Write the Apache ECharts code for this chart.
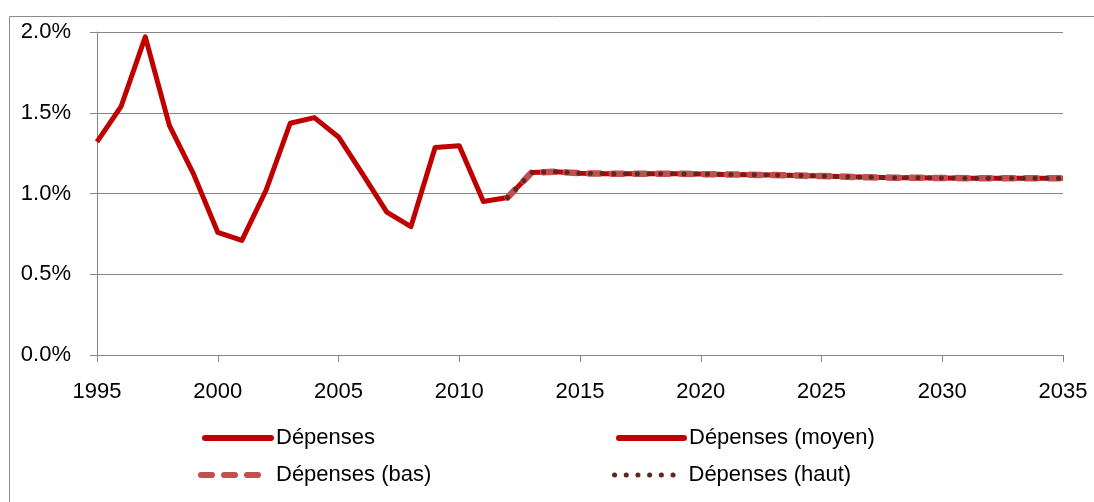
<!DOCTYPE html>
<html>
<head>
<meta charset="utf-8">
<script src="https://cdn.jsdelivr.net/npm/echarts@6/dist/echarts.min.js"></script>
<style>html,body{margin:0;padding:0;background:#fff}#c{width:1094px;height:502px}</style>
</head>
<body>
<div id="c"></div>
<script>
const histYears = [1995,1996,1997,1998,1999,2000,2001,2002,2003,2004,2005,2006,2007,2008,2009,2010,2011,2012];
const histValues = [1.32,1.54,1.97,1.42,1.12,0.76,0.71,1.02,1.435,1.47,1.35,1.12,0.885,0.795,1.285,1.295,0.95,0.975];
const projYears = [2012,2013,2014,2015,2016,2017,2018,2019,2020,2021,2022,2023,2024,2025,2026,2027,2028,2029,2030,2031,2032,2033,2034,2035];
const moyenValues = [0.975,1.13,1.135,1.125,1.123,1.123,1.123,1.122,1.12,1.118,1.116,1.114,1.112,1.108,1.104,1.1,1.098,1.097,1.096,1.095,1.095,1.094,1.094,1.094];
const basValues = [0.975,1.13,1.135,1.125,1.123,1.123,1.123,1.122,1.12,1.118,1.116,1.114,1.112,1.108,1.104,1.1,1.098,1.097,1.096,1.095,1.095,1.094,1.094,1.094];
const hautValues = [0.975,1.13,1.135,1.125,1.123,1.123,1.123,1.122,1.12,1.118,1.116,1.114,1.112,1.108,1.104,1.1,1.098,1.097,1.096,1.095,1.095,1.094,1.094,1.094];
const seriesNames = ['Dépenses','Dépenses (moyen)','Dépenses (bas)','Dépenses (haut)'];

const pair = (xs, ys) => xs.map((x, i) => [x, ys[i]]);
const FONT = 'Liberation Sans';
const chart = echarts.init(document.getElementById('c'), null, {renderer: 'canvas'});
const lineStyles = [
  {color: '#C00000', width: 5, join: 'round'},
  {color: '#C00000', width: 5, join: 'round'},
  {color: '#C0504D', width: 6.5, type: [11, 12], cap: 'round', join: 'round'},
  {color: '#632523', width: 5, type: [0.1, 11.6], cap: 'round', join: 'round'}
];
function mkLegend(i, left, top, width, textPad) {
  return {
    data: [{name: seriesNames[i], itemStyle: {opacity: 0},
      lineStyle: Object.assign({}, lineStyles[i], {cap: 'round', width: i === 3 ? 5 : 6})}],
    left: left, top: top, padding: 0, itemWidth: width, itemHeight: 14, itemGap: 0,
    textStyle: {fontFamily: FONT, fontSize: 22, color: '#000', padding: [0, 0, 0, textPad]}
  };
}
chart.setOption({
  animation: false,
  backgroundColor: '#fff',
  graphic: [{type: 'rect', shape: {x: 9.5, y: 16.5, width: 1200, height: 600},
    style: {fill: 'none', stroke: '#8c8c8c', lineWidth: 1}, silent: true}],
  grid: {left: 97, right: 31, top: 32, bottom: 147},
  xAxis: {
    type: 'value', min: 1995, max: 2035, interval: 5,
    axisLine: {lineStyle: {color: '#868686', width: 1}},
    axisTick: {show: true, inside: false, length: 7, lineStyle: {color: '#868686'}},
    splitLine: {show: false},
    axisLabel: {margin: 26, fontFamily: FONT, fontSize: 22, color: '#000', formatter: v => String(v)}
  },
  yAxis: {
    type: 'value', min: 0, max: 2, interval: 0.5,
    axisLine: {show: true, lineStyle: {color: '#868686', width: 1}},
    axisTick: {show: true, inside: false, length: 7, lineStyle: {color: '#868686'}},
    splitLine: {show: true, lineStyle: {color: '#868686', width: 1}},
    axisLabel: {margin: 26, fontFamily: FONT, fontSize: 22, color: '#000', formatter: v => v.toFixed(1) + '%'}
  },
  legend: [
    mkLegend(0, 202, 427, 66, 0),
    mkLegend(1, 616, 427, 65, 0),
    mkLegend(2, 198, 464, 64, 6),
    mkLegend(3, 612, 464, 64, 5)
  ],
  series: [
    {name: seriesNames[0], type: 'line', data: pair(histYears, histValues), symbol: 'none',
      color: '#C00000', lineStyle: lineStyles[0]},
    {name: seriesNames[1], type: 'line', data: pair(projYears, moyenValues), symbol: 'none',
      color: '#C00000', lineStyle: lineStyles[1]},
    {name: seriesNames[2], type: 'line', data: pair(projYears, basValues), symbol: 'none',
      color: '#C0504D', lineStyle: lineStyles[2]},
    {name: seriesNames[3], type: 'line', data: pair(projYears, hautValues), symbol: 'none',
      color: '#632523', lineStyle: lineStyles[3]}
  ]
});
</script>
</body>
</html>
